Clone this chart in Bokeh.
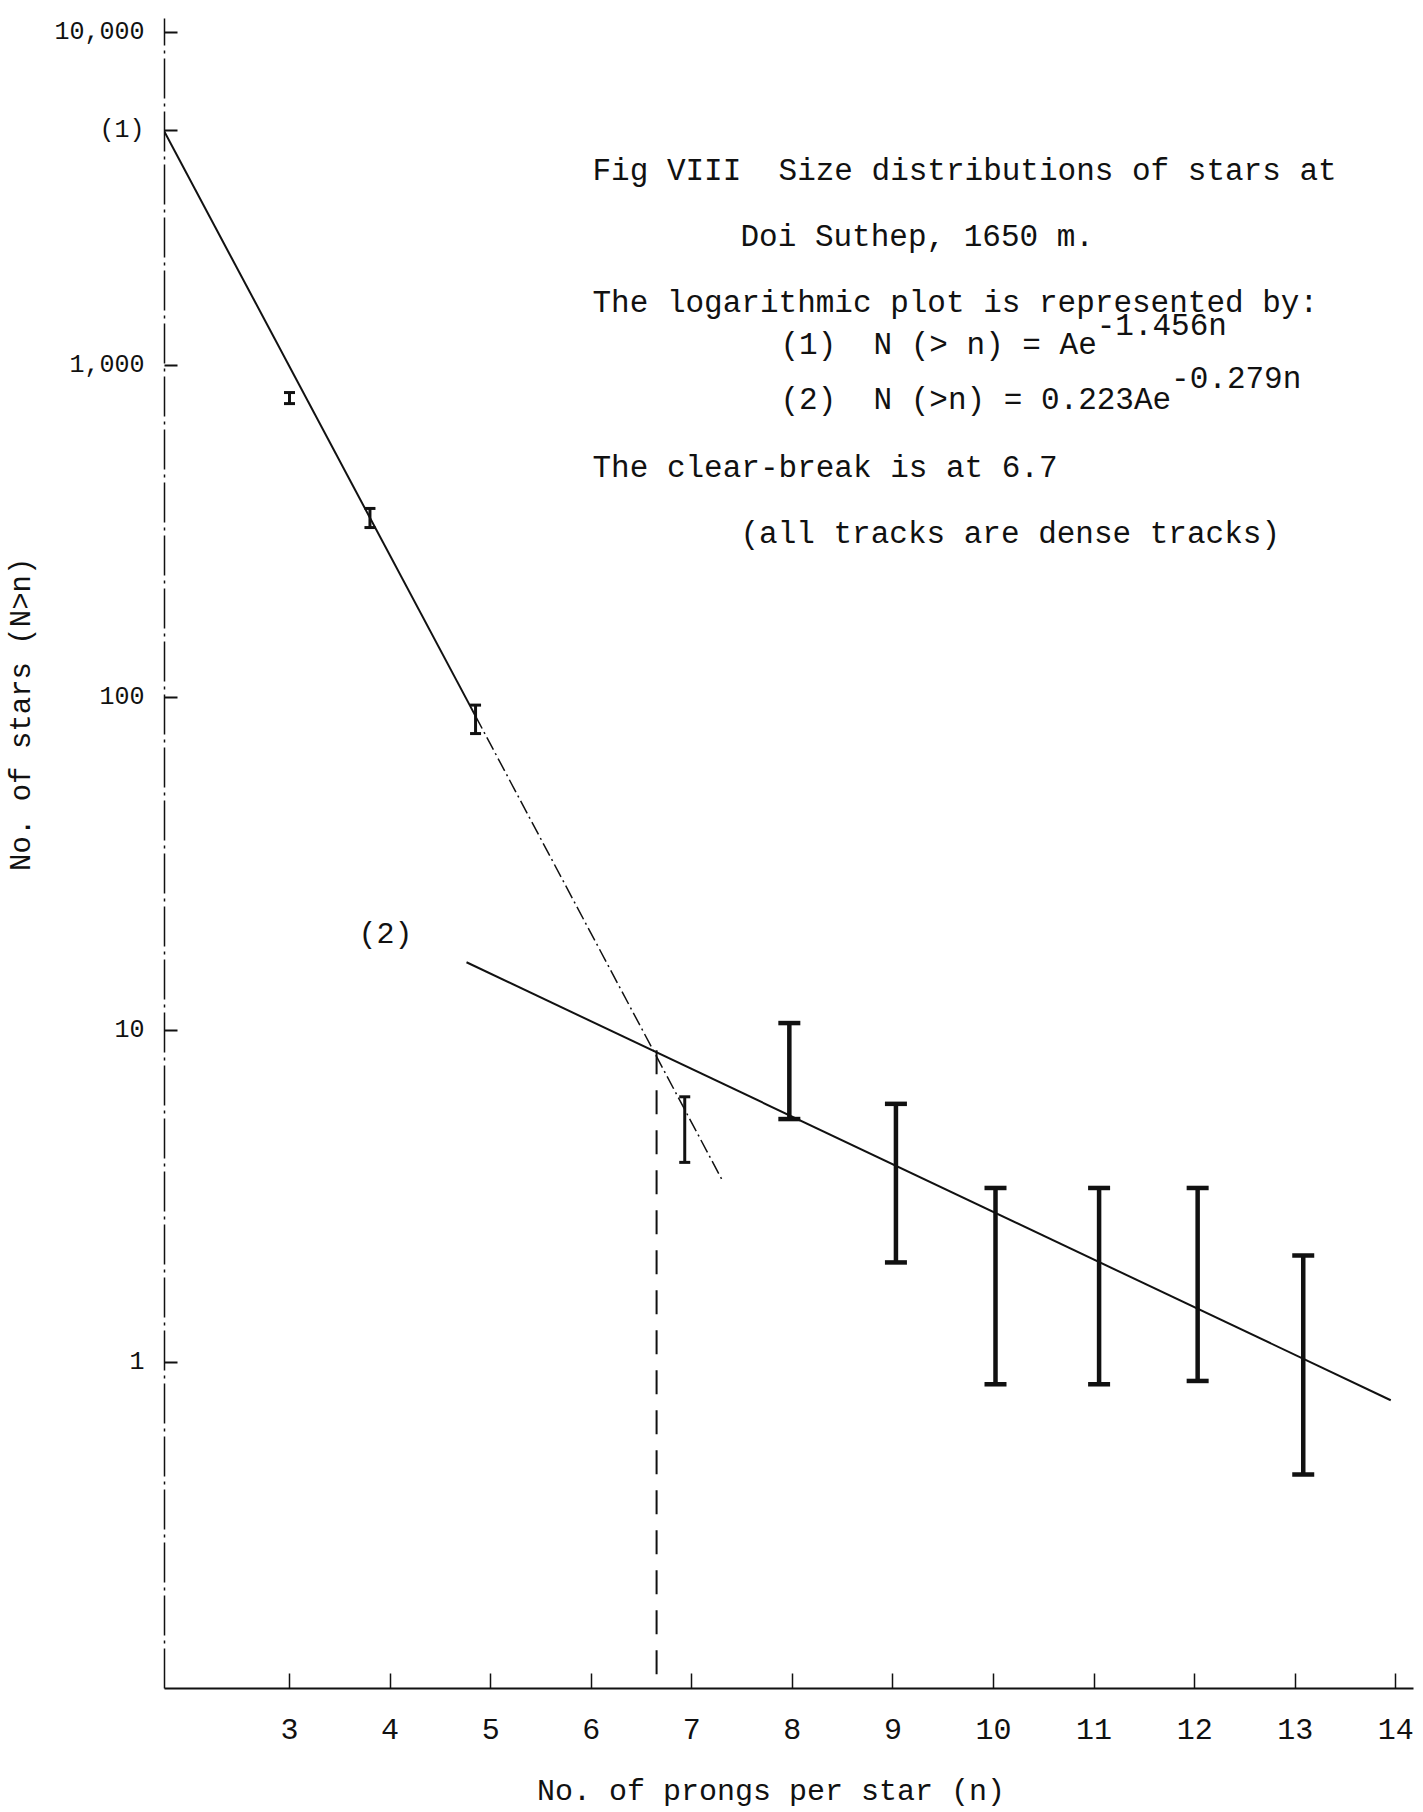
import math
from bokeh.plotting import figure
from bokeh.models import Range1d, FixedTicker, Label, Whisker, TeeHead, ColumnDataSource
from bokeh.embed import file_html
from bokeh.resources import INLINE

# ---------------- data ----------------
# error bars (N > n), drawn positions along the prong axis
bar_n = [3.0, 3.8, 4.85, 6.93, 7.97, 9.03, 10.02, 11.05, 12.03, 13.08]
bar_low = [767, 325, 78, 4.0, 5.4, 2.0, 0.86, 0.86, 0.88, 0.46]
bar_high = [828, 371, 95, 6.3, 10.5, 6.0, 3.35, 3.35, 3.35, 2.1]

# fitted straight lines on the log plot
fit1_n = [1.75, 4.85, 7.3]        # (1) N(>n) = A e^-1.456n
fit1_N = [5085, 88, 3.55]
fit2_n = [4.76, 13.95]            # (2) N(>n) = 0.223 A e^-0.279n
fit2_N = [16.0, 0.77]

break_n = 6.65                    # clear break
break_N = 8.7

x_ticks = [3, 4, 5, 6, 7, 8, 9, 10, 11, 12, 13, 14]
y_ticks = [1, 10, 100, 1000, 10000]
y_tick_labels = ["1", "10", "100", "1,000", "10,000"]

# ---------------- page geometry helpers ----------------
PX_PER_N = 100.57
PX_N3 = 289.0          # page x of n = 3
PX_PER_DEC = 332.4
PY_N1 = 1362.0         # page y of N = 1

FRAME_L, FRAME_R, FRAME_T, FRAME_B = 164, 1413, 18, 1688
W, H = 1422, 1812


def n_at(px):
    return 3 + (px - PX_N3) / PX_PER_N


def N_at(py):
    return 10 ** ((PY_N1 - py) / PX_PER_DEC)


FONT = "Liberation Mono"
INK = "#111111"
NB = "\u00a0"

p = figure(width=W, height=H,
           x_range=Range1d(n_at(FRAME_L), n_at(FRAME_R)),
           y_range=Range1d(N_at(FRAME_B), N_at(FRAME_T)),
           y_axis_type="log",
           output_backend="svg", toolbar_location=None,
           min_border_left=FRAME_L, min_border_right=W - FRAME_R,
           min_border_top=FRAME_T, min_border_bottom=H - FRAME_B)

p.outline_line_color = None
p.grid.visible = False
p.background_fill_color = "white"
p.border_fill_color = "white"

# x axis
xa = p.xaxis[0]
xa.ticker = FixedTicker(ticks=x_ticks)
xa.axis_line_color = INK
xa.axis_line_width = 2
xa.major_tick_in = 15
xa.major_tick_out = 0
xa.major_tick_line_color = INK
xa.major_tick_line_width = 1.5
xa.minor_tick_line_color = None
xa.major_label_standoff = 30
xa.major_label_text_font = FONT
xa.major_label_text_font_size = "30px"
xa.major_label_text_color = INK
# trailing padding shifts the centred title slightly left, as in the original
xa.axis_label = "No. of prongs per star (n)" + NB * 2
xa.axis_label_text_font = FONT
xa.axis_label_text_font_size = "30px"
xa.axis_label_text_font_style = "normal"
xa.axis_label_text_color = INK
xa.axis_label_standoff = 33

# y axis (the "(1)" marker of the first fit sits among the tick labels)
ya = p.yaxis[0]
ya.ticker = FixedTicker(ticks=y_ticks + [fit1_N[0]])
overrides = {t: s for t, s in zip(y_ticks, y_tick_labels)}
overrides[fit1_N[0]] = "(1)"
ya.major_label_overrides = overrides
ya.axis_line_color = INK
ya.axis_line_width = 1.5
ya.axis_line_dash = "40 5 3 5"
ya.major_tick_in = 13
ya.major_tick_out = 0
ya.major_tick_line_color = INK
ya.major_tick_line_width = 2
ya.minor_tick_line_color = None
ya.major_label_standoff = 20
ya.major_label_text_font = FONT
ya.major_label_text_font_size = "25px"
ya.major_label_text_color = INK
# leading padding lifts the centred title to where the original has it
ya.axis_label = NB * 16 + "No. of stars (N>n)"
ya.axis_label_text_font = FONT
ya.axis_label_text_font_size = "29px"
ya.axis_label_text_font_style = "normal"
ya.axis_label_text_color = INK
ya.axis_label_standoff = 12

# fitted lines
p.line(fit1_n[:2], fit1_N[:2], line_color=INK, line_width=2)
p.line(fit1_n[1:], fit1_N[1:], line_color=INK, line_width=1.5, line_dash="14 4 2 4")
p.line(fit2_n, fit2_N, line_color=INK, line_width=2)

# vertical dashed line at the break
p.line([break_n, break_n], [break_N, N_at(FRAME_B)], line_color=INK, line_width=2,
       line_dash="24 16")

# error bars
small = ColumnDataSource(dict(n=bar_n[:4], lo=bar_low[:4], hi=bar_high[:4]))
large = ColumnDataSource(dict(n=bar_n[4:], lo=bar_low[4:], hi=bar_high[4:]))
for src, w, cap in ((small, 3, 11), (large, 4.5, 22)):
    wk = Whisker(source=src, base="n", lower="lo", upper="hi", dimension="height",
                 line_color=INK, line_width=w,
                 upper_head=TeeHead(size=cap, line_width=w, line_color=INK),
                 lower_head=TeeHead(size=cap, line_width=w, line_color=INK))
    p.add_layout(wk)


def label(px, py, text, size=30, align="left", angle=0.0):
    p.add_layout(Label(x=n_at(px), y=N_at(py), text=text, text_font=FONT,
                       text_font_size=f"{size}px", text_color=INK,
                       text_align=align, text_baseline="middle", angle=angle))


# curve label (2)
label(385, 934, "(2)", align="center")

# text block
FS = 31
CW = 0.6 * FS
label(592, 171, f"Fig VIII{NB} Size distributions of stars at", FS)
label(740, 237, "Doi Suthep, 1650 m.", FS)
label(592, 303, "The logarithmic plot is represented by:", FS)
eq1 = f"(1){NB} N (>{NB}n) = Ae"
eq2 = f"(2){NB} N (>n) = 0.223Ae"
label(780, 345, eq1, FS)
label(780 + len(eq1) * CW, 326, "-1.456n", FS)
label(780, 400, eq2, FS)
label(780 + len(eq2) * CW, 379, "-0.279n", FS)
label(592, 468, "The clear-break is at 6.7", FS)
label(740, 534, "(all tracks are dense tracks)", FS)

open("out.html", "w").write(file_html(p, INLINE))
